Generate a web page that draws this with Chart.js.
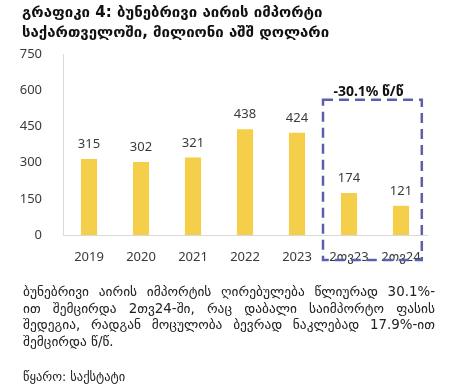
<!DOCTYPE html>
<html>
<head>
<meta charset="utf-8">
<script src="https://cdn.jsdelivr.net/npm/chart.js@4"></script>
<style>
  html, body { margin: 0; padding: 0; background: #fff; }
  #wrap { position: relative; width: 452px; height: 392px; overflow: hidden; font-family: 'DejaVu Sans', sans-serif; color: #222; }
  #wrap canvas { position: absolute; left: 0; top: 0; }
  .title { position: absolute; left: 22px; top: 2px; font-weight: bold; font-size: 15px; line-height: 20px; color: #111; white-space: nowrap; }
  .para { position: absolute; left: 23px; top: 284px; width: 412px; font-size: 13.4px; line-height: 16.7px; color: #222; }
  .para div { text-align: justify; text-align-last: justify; white-space: nowrap; }
  .para div.last { text-align-last: left; }
  .src { position: absolute; left: 23px; top: 369px; font-size: 12.5px; color: #222; }
</style>
</head>
<body>
<div id="wrap">
  <canvas id="chart" width="452" height="392"></canvas>
  <div class="title">გრაფიკი 4: ბუნებრივი აირის იმპორტი<br>საქართველოში, მილიონი აშშ დოლარი</div>
  <div class="para">
    <div>ბუნებრივი აირის იმპორტის ღირებულება წლიურად 30.1%-</div>
    <div>ით შემცირდა 2თვ24-ში, რაც დაბალი საიმპორტო ფასის</div>
    <div>შედეგია, რადგან მოცულობა ბევრად ნაკლებად 17.9%-ით</div>
    <div class="last">შემცირდა წ/წ.</div>
  </div>
  <div class="src">წყარო: საქსტატი</div>
</div>
<script>
const categories = ['2019', '2020', '2021', '2022', '2023', '2თვ23', '2თვ24'];
const values = [315, 302, 321, 438, 424, 174, 121];
const yTicks = [0, 150, 300, 450, 600, 750];
const boxLabel = '-30.1% წ/წ';

const BAR = '#f5cf4a';
const BOX = '#5c5fae';
const TEXT = '#3a3a3a';
const FONT = "'Noto Sans', 'DejaVu Sans', sans-serif";

// value labels above bars
const valueLabels = {
  id: 'valueLabels',
  afterDatasetsDraw(chart) {
    const ctx = chart.ctx;
    const meta = chart.getDatasetMeta(0);
    ctx.save();
    ctx.font = '13px ' + FONT;
    ctx.fillStyle = TEXT;
    ctx.textAlign = 'center';
    ctx.textBaseline = 'bottom';
    meta.data.forEach((bar, i) => {
      ctx.fillText(String(values[i]), bar.x, bar.y - 8);
    });
    ctx.restore();
  }
};

// dashed box around the two-month bars
const dashBox = {
  id: 'dashBox',
  afterDraw(chart) {
    const { ctx, scales: { x, y }, chartArea } = chart;
    const left = x.getPixelForValue(4.5);
    const right = x.getPixelForValue(6.4);
    const top = y.getPixelForValue(560);
    const bottom = chartArea.bottom + 25;
    ctx.save();
    ctx.strokeStyle = BOX;
    ctx.lineWidth = 2.5;
    ctx.setLineDash([10, 6]);
    ctx.strokeRect(left, top, right - left, bottom - top);
    ctx.setLineDash([]);
    ctx.font = 'bold 14px ' + FONT;
    ctx.fillStyle = '#111';
    ctx.textAlign = 'center';
    ctx.textBaseline = 'bottom';
    ctx.fillText(boxLabel, (left + right) / 2 - 4, top - 1);
    ctx.restore();
  }
};

new Chart(document.getElementById('chart'), {
  type: 'bar',
  data: {
    labels: categories,
    datasets: [{
      data: values,
      backgroundColor: BAR,
      barPercentage: 0.62,
      categoryPercentage: 0.5,
    }]
  },
  options: {
    responsive: false,
    animation: false,
    layout: { padding: { left: 0, right: 25, top: 54, bottom: 127 } },
    plugins: { legend: { display: false }, tooltip: { enabled: false } },
    scales: {
      x: {
        grid: { display: false },
        border: { color: '#d9d9d9', width: 1 },
        ticks: { color: TEXT, font: { family: FONT, size: 13 }, padding: 6 },
        afterFit(s) { s.height = 30; }
      },
      y: {
        min: 0, max: 750,
        afterBuildTicks(s) { s.ticks = yTicks.map(v => ({ value: v })); },
        grid: { display: false },
        border: { color: '#d9d9d9', width: 1 },
        ticks: { color: TEXT, font: { family: FONT, size: 13 }, padding: 13 },
        afterFit(s) { s.width = 63; }
      }
    }
  },
  plugins: [valueLabels, dashBox]
});
</script>
</body>
</html>
